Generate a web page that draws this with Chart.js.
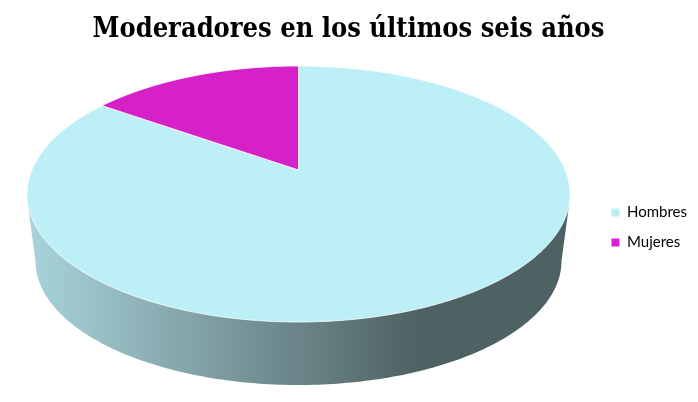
<!DOCTYPE html>
<html lang="es">
<head>
<meta charset="utf-8">
<title>Moderadores en los últimos seis años</title>
<script src="https://cdn.jsdelivr.net/npm/chart.js@4"></script>
<style>
  html, body { margin: 0; padding: 0; background: #fff; }
  canvas { display: block; }
</style>
</head>
<body>
<canvas id="chart" width="698" height="402"></canvas>
<script>
const categories = ["Hombres", "Mujeres"];
const values = [84.8, 15.2];
const sliceColors = ["#BCEFF6", "#D620C8"];
const legendColors = ["#BCEFF6", "#E01FD2"];

// forma del disco en perspectiva
const DISC_LEFT = 27;
const DISC_WIDTH = 543;
const DISC_HEIGHT = 256;
const APEX_Y = 104;   // el vértice no cae en el centro de la elipse
const DEPTH = 63;
const BASE_SCALE = 0.9687;

// proyecta un punto del círculo unidad sobre el disco
function makeProjection(area) {
  const rx = DISC_WIDTH / 2;
  const c = (2 * APEX_Y - DISC_HEIGHT) / DISC_HEIGHT;
  const a = DISC_HEIGHT * (1 + c) - APEX_Y;
  const k = rx * Math.sqrt(1 - c * c);
  const cx = area.left + DISC_LEFT + rx;
  return (u, v) => {
    const w = 1 + c * v;
    return { x: cx + k * u / w, y: area.top + (a * v + APEX_Y) / w };
  };
}

const pie3d = {
  id: "pie3d",
  // baja un poco la leyenda
  afterLayout(chart) {
    chart.legend.top += 2;
    chart.legend.bottom += 2;
  },
  beforeDatasetsDraw(chart) {
    const ctx = chart.ctx;
    const area = chart.chartArea;
    const project = makeProjection(area);
    const meta = chart.getDatasetMeta(0);
    const left = area.left + DISC_LEFT;
    const cx = left + DISC_WIDTH / 2;
    const discBottom = area.top + DISC_HEIGHT;

    // pared lateral
    const base = (u, v) => {
      const p = project(u, v);
      return {
        x: cx + (p.x - cx) * BASE_SCALE,
        y: discBottom + DEPTH + (p.y - discBottom) * BASE_SCALE,
      };
    };
    const grad = ctx.createLinearGradient(left + 3, 0, left + 393, 0);
    grad.addColorStop(0, "#A8D3DA");
    grad.addColorStop(1, "#4E6163");

    ctx.save();
    ctx.beginPath();
    const widest = Math.asin(-(2 * APEX_Y - DISC_HEIGHT) / DISC_HEIGHT);
    for (let i = 0; i <= 180; i++) {
      const t = widest + (Math.PI - 2 * widest) * i / 180;
      const p = base(Math.cos(t), Math.sin(t));
      if (i === 0) ctx.moveTo(p.x, p.y); else ctx.lineTo(p.x, p.y);
    }
    const topL = project(Math.cos(Math.PI - 0.25), Math.sin(Math.PI - 0.25));
    const topR = project(Math.cos(0.25), Math.sin(0.25));
    ctx.lineTo(topL.x, topL.y);
    ctx.lineTo(topR.x, topR.y);
    ctx.closePath();
    ctx.fillStyle = grad;
    ctx.fill();

    // porciones, con los ángulos que calcula Chart.js
    meta.data.forEach((arc) => {
      const steps = Math.max(2, Math.ceil((arc.endAngle - arc.startAngle) * 60));
      ctx.beginPath();
      const o = project(0, 0);
      ctx.moveTo(o.x, o.y);
      for (let i = 0; i <= steps; i++) {
        const t = arc.startAngle + (arc.endAngle - arc.startAngle) * i / steps;
        const p = project(Math.cos(t), Math.sin(t));
        ctx.lineTo(p.x, p.y);
      }
      ctx.closePath();
      ctx.fillStyle = arc.options.backgroundColor;
      ctx.fill();
      ctx.strokeStyle = arc.options.borderColor;
      ctx.lineWidth = arc.options.borderWidth;
      ctx.stroke();
    });
    ctx.restore();
    return false;
  },
};

new Chart(document.getElementById("chart"), {
  type: "pie",
  data: {
    labels: categories,
    datasets: [{
      data: values,
      backgroundColor: sliceColors,
      borderColor: "rgba(255,255,255,0.8)",
      borderWidth: 1,
    }],
  },
  options: {
    responsive: false,
    animation: false,
    layout: { padding: { left: 0, right: 1, top: 0, bottom: 17 } },
    plugins: {
      title: {
        display: true,
        text: "Moderadores en los últimos seis años",
        color: "#000",
        font: { family: "'DejaVu Serif Condensed', 'DejaVu Serif'", size: 27, weight: "bold" },
        padding: { top: 14, bottom: 19.6 },
      },
      legend: {
        position: "right",
        fullSize: false,
        labels: {
          boxWidth: 8,
          boxHeight: 8,
          padding: 15,
          color: "#1a1a1a",
          font: { family: "Lato", size: 15 },
          generateLabels(chart) {
            return categories.map((name, i) => ({
              text: name,
              fillStyle: legendColors[i],
              strokeStyle: legendColors[i],
              lineWidth: 0,
              index: i,
            }));
          },
        },
      },
      tooltip: { enabled: false },
    },
  },
  plugins: [pie3d],
});
</script>
</body>
</html>
